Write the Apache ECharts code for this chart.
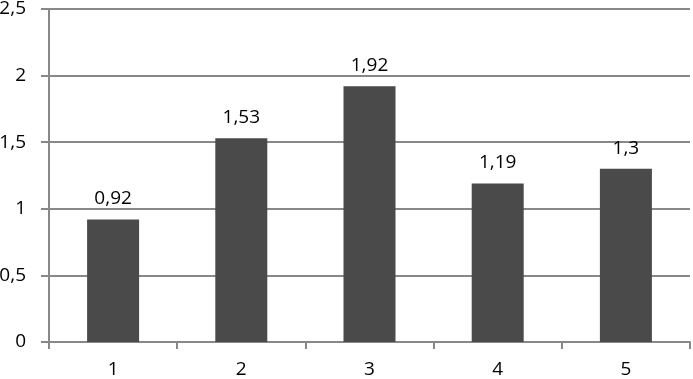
<!DOCTYPE html>
<html><head><meta charset="utf-8">
<script src="https://cdn.jsdelivr.net/npm/echarts@6/dist/echarts.min.js"></script>
<style>html,body{margin:0;padding:0;background:#fff}#c{width:693px;height:379px}</style>
</head><body><div id="c"></div>
<script>
var categories = ['1','2','3','4','5'];
var values = [0.92, 1.53, 1.92, 1.19, 1.3];
var yMin = 0, yMax = 2.5, yStep = 0.5;
var fmt = function(v){ return String(v).replace('.', ','); };
var chart = echarts.init(document.getElementById('c'));
chart.setOption({
  animation: false,
  grid: {left: 49, right: 3, top: 9, bottom: 37, containLabel: false, outerBoundsMode: 'none'},
  xAxis: {
    type: 'category', data: categories,
    axisLine: {lineStyle: {color: '#888', width: 2}},
    axisTick: {show: true, length: 7, lineStyle: {color: '#888', width: 2}},
    axisLabel: {margin: 18, color: '#000', fontSize: 19, fontFamily: 'Open Sans'}
  },
  yAxis: {
    type: 'value', min: yMin, max: yMax, interval: yStep,
    axisLine: {show: true, lineStyle: {color: '#888', width: 2}},
    axisTick: {show: true, length: 8, lineStyle: {color: '#888', width: 2}},
    splitLine: {lineStyle: {color: '#888', width: 2}},
    axisLabel: {margin: 23, color: '#000', fontSize: 19, fontFamily: 'Open Sans', formatter: fmt}
  },
  series: [{
    type: 'bar', data: values, barWidth: 52,
    itemStyle: {color: '#4a4a4a'},
    label: {show: true, position: 'top', distance: 11, color: '#000', fontSize: 19, fontFamily: 'Open Sans', formatter: function(p){ return fmt(p.value); }}
  }]
});
</script></body></html>
